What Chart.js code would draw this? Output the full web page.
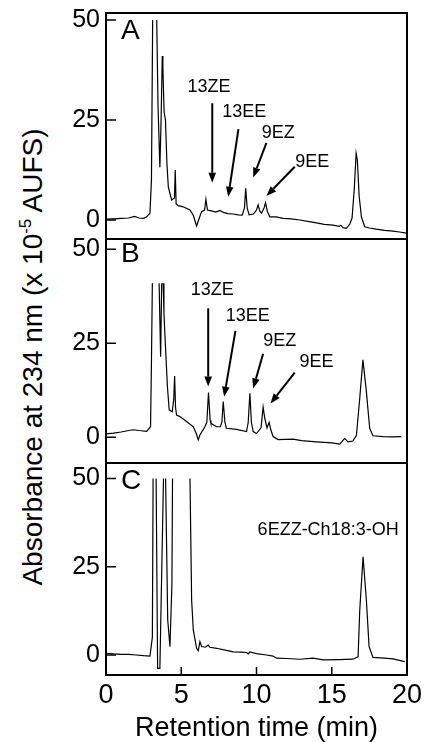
<!DOCTYPE html>
<html>
<head>
<meta charset="utf-8">
<script src="https://cdn.jsdelivr.net/npm/chart.js@4.4.1/dist/chart.umd.min.js"></script>
<style>
  html, body { margin: 0; padding: 0; background: #fff; }
  body { width: 424px; height: 742px; position: relative; overflow: hidden; font-family: 'Liberation Sans', Arial, sans-serif; }
  .panel { position: absolute; left: 0; }
  #ytitle { position: absolute; left: 33px; top: 357px; transform: translate(-50%, -50%) rotate(-90deg);
            font-size: 28px; line-height: 1; white-space: nowrap; color: #000; }
  #ytitle sup { font-size: 17px; line-height: 0; vertical-align: 11px; }
</style>
</head>
<body>
<div id="ytitle">Absorbance at 234 nm (x 10<sup>-5</sup> AUFS)</div>
<canvas id="panelA" class="panel" width="424" height="241" style="top:0px"></canvas>
<canvas id="panelB" class="panel" width="424" height="226" style="top:238px"></canvas>
<canvas id="panelC" class="panel" width="424" height="280" style="top:462px"></canvas>
<script>
// axis ticks
const yTicks = [0, 25, 50];
const xTicks = [0, 5, 10, 15, 20];

// panel A trace (retention time in min, absorbance)
const timeA = [
  0, 0.5, 1.0, 1.5, 1.9, 2.2, 2.5, 2.7, 2.92, 3.02,
  3.1, 3.13, 3.33, 3.37, 3.46, 3.58, 3.66, 3.74, 3.78, 3.86,
  3.95, 4.05, 4.14, 4.36, 4.55, 4.6, 4.66, 4.8, 5.13, 5.57,
  5.8, 6.02, 6.2, 6.35, 6.55, 6.64, 6.74, 7.0, 7.3, 7.57,
  7.8, 8.1, 8.45, 8.8, 9.05, 9.2, 9.28, 9.38, 9.51, 9.8,
  10.0, 10.11, 10.22, 10.33, 10.5, 10.6, 10.72, 10.88, 11.3, 11.77,
  12.3, 12.88, 13.5, 13.98, 14.5, 15.09, 15.5, 15.6, 15.75, 15.97,
  16.2, 16.35, 16.5, 16.62, 16.7, 16.82, 16.97, 17.19, 17.5, 17.96,
  18.5, 19.07, 19.5, 19.96
];
const absA = [
  0.2, 0.3, 0.4, 0.5, 0.9, 0.5, 0.4, 0.8, 1.7, 10,
  50, 80, 80, 50, 28, 13.2, 25, 41, 38, 27,
  25, 14, 8.3, 5, 5.5, 12.5, 4, 3.6, 3.3, 2.5,
  1.2, -1.5, 0.5, 2.1, 2.5, 5.2, 2.5, 2.3, 2.0, 2.4,
  1.9, 1.6, 1.5, 1.3, 1.2, 3, 7.9, 3, 1.3, 1.5,
  2.5, 3.8, 2.2, 1.7, 3, 4.3, 2.2, 0.8, 0.8, 0.4,
  0.3, 0, -0.4, -0.7, -1.1, -1.3, -1.6, -1.3, -1.9, -2.1,
  -1.0, 0.5, 8, 16.7, 15, 6, 0.8, -1.7, -2.0, -2.3,
  -2.6, -2.8, -3.0, -3.3
];

// panel B trace
const timeB = [
  0, 0.5, 1.0, 1.5, 1.81, 2.2, 2.7, 2.96, 3.02, 3.08,
  3.1, 3.5, 3.53, 3.63, 3.7, 3.72, 3.8, 3.85, 3.92, 4.08,
  4.2, 4.4, 4.5, 4.56, 4.62, 4.69, 4.91, 5.35, 5.8, 6.0,
  6.13, 6.24, 6.57, 6.7, 6.81, 6.92, 6.97, 7.35, 7.6, 7.7,
  7.79, 7.9, 8.0, 8.67, 9.34, 9.45, 9.56, 9.66, 9.78, 10.0,
  10.3, 10.44, 10.55, 10.7, 10.84, 10.95, 11.1, 11.44, 12.43, 13.0,
  13.98, 15.0, 15.53, 15.86, 16.08, 16.4, 16.64, 16.85, 17.07, 17.29,
  17.52, 17.74, 18.4, 19.0, 19.62
];
const absB = [
  0.9, 1.1, 1.4, 1.8, 2.0, 1.8, 1.6, 2.8, 20, 41,
  60, 60, 41, 21.4, 41, 60, 41, 33, 26.8, 13.5,
  7.3, 6.8, 10, 16.3, 8, 5.9, 5.5, 4.2, 2.8, 1.0,
  -0.7, 0.6, 2.8, 4, 11.9, 4.5, 3.7, 2.8, 2.8, 4,
  9.5, 4, 2.4, 2.1, 1.5, 4, 11.7, 4, 1.5, 1.0,
  2.5, 8.0, 5, 2.5, 4.0, 2, 0.2, -0.6, -0.5, -0.9,
  -1.2, -1.5, -1.8, -0.3, -1.2, -1.0, 0.5, 9.9, 20.6, 12.6,
  2.4, 0.4, 0.2, 0.1, 0.2
];

// panel C trace
const timeC = [
  0, 0.5, 1.0, 1.5, 2.0, 2.5, 2.92, 3.08, 3.13, 3.2,
  3.28, 3.33, 3.43, 3.58, 3.82, 3.86, 3.92, 3.96, 4.1, 4.25,
  4.38, 4.42, 4.5, 5.5, 5.58, 5.69, 5.8, 6.02, 6.13, 6.24,
  6.35, 6.6, 6.79, 6.9, 7.35, 8.0, 8.45, 9.0, 9.34, 9.45,
  9.56, 10.0, 10.66, 11.1, 11.33, 12.0, 12.88, 13.76, 14.42, 15.5,
  16.4, 16.75, 16.86, 17.08, 17.3, 17.48, 17.74, 18.5, 19.07, 19.85
];
const absC = [
  0.5, 0.3, 0.2, 0.2, 0.0, -0.2, -0.3, 5, 50, 80,
  80, 50, -3.8, -3.8, 50, 80, 80, 50, 10, 2.35,
  20, 50, 80, 80, 50, 15.6, 7.1, 1.9, 1.2, 3.8,
  2.4, 2.2, 2.8, 2.2, 1.9, 1.3, 0.9, 0.8, 0.7, 0.3,
  0.85, 0.4, 0, -0.3, -0.9, -1.0, -1.2, -0.9, -1.4, -1.3,
  -1.2, -0.5, 12.7, 27.8, 15.6, 2.4, -0.7, -0.9, -1.1, -1.9
];

// peak labels: text position and arrow (tail -> tip), all in data units
const notesA = [
  { text: '13ZE', tx: 6.84, ty: 33.3, x0: 7.06, y0: 29.2, x1: 7.06, y1: 9.3 },
  { text: '13EE', tx: 9.18, ty: 27.1, x0: 8.8, y0: 22.7, x1: 8.12, y1: 5.8 },
  { text: '9EZ', tx: 11.44, ty: 21.7, x0: 10.66, y0: 19.3, x1: 9.78, y1: 10.6 },
  { text: '9EE', tx: 13.7, ty: 14.4, x0: 12.54, y0: 13.3, x1: 10.66, y1: 6.0 }
];
const notesB = [
  { text: '13ZE', tx: 7.06, ty: 39.2, x0: 6.79, y0: 34.3, x1: 6.79, y1: 13.5 },
  { text: '13EE', tx: 9.42, ty: 32.3, x0: 8.6, y0: 28.3, x1: 7.85, y1: 10.8 },
  { text: '9EZ', tx: 11.55, ty: 25.6, x0: 10.44, y0: 22.2, x1: 9.78, y1: 13.0 },
  { text: '9EE', tx: 13.98, ty: 20.1, x0: 12.54, y0: 17.2, x1: 10.93, y1: 9.0 }
];
const notesC = [
  { text: '6EZZ-Ch18:3-OH', tx: 14.76, ty: 35.3 }
];

const FONT = "'Liberation Sans', Arial, Helvetica, sans-serif";
Chart.defaults.font.family = FONT;
Chart.defaults.color = '#000';

// clip the trace at the recorder's top so off-scale peaks look cut
const clipTop = {
  id: 'clipTop',
  beforeDatasetsDraw(chart, args, opts) {
    const { ctx, chartArea: a, scales: { y } } = chart;
    const top = y.getPixelForValue(opts.at);
    ctx.save();
    ctx.beginPath();
    ctx.rect(a.left, top, a.right - a.left, a.bottom - top);
    ctx.clip();
  },
  afterDatasetsDraw(chart) {
    chart.ctx.restore();
  }
};

// peak labels, arrows and the panel letter
const callouts = {
  id: 'callouts',
  afterDatasetsDraw(chart, args, opts) {
    const { ctx, scales: { x, y } } = chart;
    ctx.save();
    ctx.fillStyle = '#000';
    ctx.strokeStyle = '#000';
    ctx.font = '18px ' + FONT;
    ctx.textAlign = 'center';
    ctx.textBaseline = 'middle';
    opts.notes.forEach(n => {
      ctx.fillText(n.text, x.getPixelForValue(n.tx), y.getPixelForValue(n.ty));
      if (n.x0 === undefined) return;
      const x0 = x.getPixelForValue(n.x0), y0 = y.getPixelForValue(n.y0);
      const x1 = x.getPixelForValue(n.x1), y1 = y.getPixelForValue(n.y1);
      const ang = Math.atan2(y1 - y0, x1 - x0);
      const head = 10, half = 3.8;
      const bx = x1 - head * Math.cos(ang), by = y1 - head * Math.sin(ang);
      ctx.lineWidth = 2;
      ctx.beginPath();
      ctx.moveTo(x0, y0);
      ctx.lineTo(bx, by);
      ctx.stroke();
      ctx.beginPath();
      ctx.moveTo(x1, y1);
      ctx.lineTo(bx + half * Math.sin(ang), by - half * Math.cos(ang));
      ctx.lineTo(bx - half * Math.sin(ang), by + half * Math.cos(ang));
      ctx.closePath();
      ctx.fill();
    });
    ctx.font = '28px ' + FONT;
    ctx.textAlign = 'left';
    ctx.fillText(opts.letter, x.getPixelForValue(1.0), y.getPixelForValue(opts.letterY));
    ctx.restore();
  }
};

// box around each panel and inward tick marks
const frame = {
  id: 'frame',
  afterDraw(chart, args, opts) {
    const { ctx, chartArea: a, scales: { x, y } } = chart;
    ctx.save();
    ctx.strokeStyle = '#000';
    ctx.lineWidth = 1.5;
    ctx.beginPath();
    yTicks.forEach(v => {
      const py = y.getPixelForValue(v);
      ctx.moveTo(a.left, py);
      ctx.lineTo(a.left + 10, py);
    });
    if (opts.xTicks) {
      xTicks.forEach(v => {
        const px = x.getPixelForValue(v);
        ctx.moveTo(px, a.bottom);
        ctx.lineTo(px, a.bottom - 8);
      });
    }
    ctx.stroke();
    ctx.lineWidth = 2;
    ctx.strokeRect(a.left, a.top, a.right - a.left, a.bottom - a.top);
    ctx.restore();
  }
};

function makePanel(id, times, values, cfg) {
  const points = times.map((t, i) => ({ x: t, y: values[i] }));
  const xAxis = {
    type: 'linear', min: 0, max: 20,
    display: cfg.showX,
    grid: { display: false, drawTicks: false },
    border: { display: false },
    afterBuildTicks: s => { s.ticks = xTicks.map(v => ({ value: v })); },
    ticks: { font: { size: 27 }, padding: 4, maxRotation: 0, autoSkip: false, color: '#000' },
    title: { display: cfg.showX, text: 'Retention time (min)', font: { size: 27, lineHeight: 1 }, padding: 0, color: '#000' },
    afterFit: s => { if (cfg.showX) s.height = 67; s.paddingLeft = 0; s.paddingRight = 0; }
  };
  return new Chart(document.getElementById(id), {
    type: 'line',
    data: {
      datasets: [{
        data: points,
        borderColor: '#000',
        borderWidth: 1.2,
        pointRadius: 0,
        tension: 0,
        fill: false
      }]
    },
    options: {
      responsive: false,
      animation: false,
      layout: { padding: { top: cfg.padTop, bottom: cfg.padBottom, left: 0, right: 17 } },
      scales: {
        x: xAxis,
        y: {
          type: 'linear', min: cfg.yMin, max: cfg.yMax,
          grid: { display: false, drawTicks: false },
          border: { display: false },
          afterBuildTicks: s => { s.ticks = yTicks.map(v => ({ value: v })); },
          ticks: { font: { size: 25 }, padding: 6, color: '#000' },
          afterFit: s => { s.width = 106; s.paddingTop = 0; s.paddingBottom = 0; }
        }
      },
      plugins: {
        legend: { display: false },
        tooltip: { enabled: false },
        clipTop: { at: cfg.clipAt },
        callouts: { notes: cfg.notes, letter: cfg.letter, letterY: cfg.letterY },
        frame: { xTicks: cfg.showX }
      }
    },
    plugins: [clipTop, callouts, frame]
  });
}

makePanel('panelA', timeA, absA, {
  yMin: -4.75, yMax: 51.75, padTop: 13, padBottom: 2, showX: false,
  clipAt: 50, notes: notesA, letter: 'A', letterY: 47.1
});
makePanel('panelB', timeB, absB, {
  yMin: -6.84, yMax: 52.74, padTop: 1, padBottom: 1, showX: false,
  clipAt: 41, notes: notesB, letter: 'B', letterY: 48.6
});
makePanel('panelC', timeC, absC, {
  yMin: -5.67, yMax: 54.4, padTop: 1, padBottom: 0, showX: true,
  clipAt: 50, notes: notesC, letter: 'C', letterY: 49.3
});
</script>
</body>
</html>
